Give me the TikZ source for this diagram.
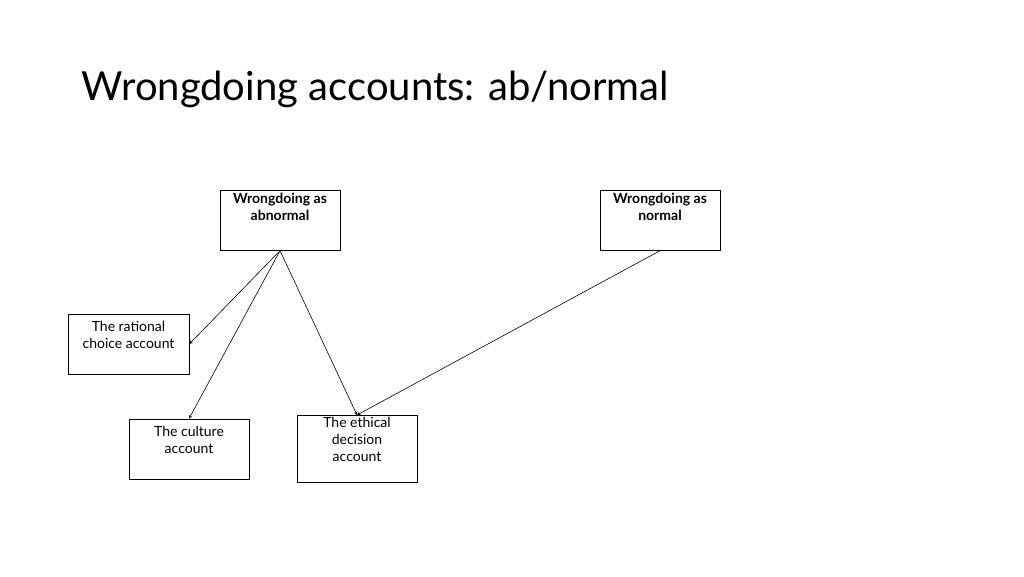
\documentclass[tikz,border=0pt]{standalone}
\usepackage{fontspec}
\setmainfont{Lato}
\begin{document}
\begin{tikzpicture}[x=1pt,y=-1pt,
  box/.style={draw,line width=0.7pt,minimum width=120pt,minimum height=60pt,align=center,font=\fontsize{14}{17}\selectfont,inner sep=2pt},
  arr/.style={->,>=stealth,line width=0.6pt}]
\useasboundingbox (0,0) rectangle (1024,576);
\node[anchor=base west,font=\fontsize{40}{48}\selectfont] (t) at (78,100) {Wrongdoing accounts: ab/normal};
\node[box,font=\fontsize{14}{17}\selectfont\bfseries,anchor=north] (A) at (280,190) {Wrongdoing as\\abnormal\\[10pt]};
\node[box,font=\fontsize{14}{17}\selectfont\bfseries,anchor=north] (B) at (660,190) {Wrongdoing as\\normal\\[10pt]};
\node[box,minimum width=121pt] (C) at (128.5,344) {The rational\\choice account\\[2pt]};
\node[box] (D) at (189,449) {The culture\\account\\[2pt]};
\node[box] (E) at (357,449) {The ethical\\decision\\account\\[2pt]};
\draw[arr] (A.south) -- (C.east);
\draw[arr] (A.south) -- (D.north);
\draw[arr] (A.south) -- (E.north);
\draw[arr] (B.south) -- (E.north);
\end{tikzpicture}
\end{document}
